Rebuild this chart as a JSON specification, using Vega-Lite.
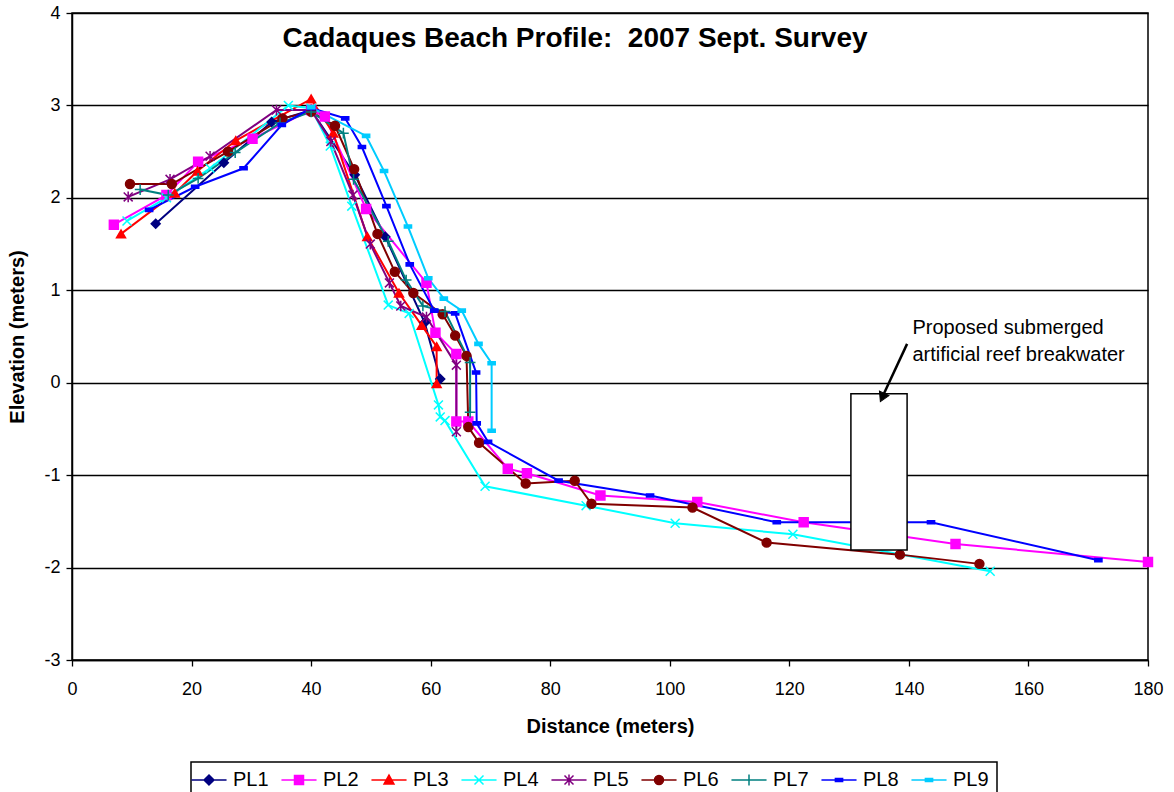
{
  "$schema": "https://vega.github.io/schema/vega-lite/v6.json",
  "width": 1076,
  "height": 647,
  "autosize": {"type": "none"},
  "padding": {"left": 72, "top": 13, "right": 26, "bottom": 132},
  "background": "white",
  "title": {
    "text": "Cadaques Beach Profile: \u00a02007 Sept. Survey",
    "font": "Liberation Sans",
    "fontSize": 28,
    "fontWeight": "bold",
    "color": "#000000",
    "anchor": "middle",
    "baseline": "alphabetic",
    "offset": -71,
    "dx": -35
  },
  "config": {
    "font": "Liberation Sans",
    "view": {"stroke": "#000000", "strokeWidth": 1.5},
    "axis": {
      "labelFont": "Liberation Sans",
      "titleFont": "Liberation Sans",
      "labelColor": "#000000",
      "titleColor": "#000000",
      "tickColor": "#000000",
      "domainColor": "#000000",
      "gridColor": "#000000",
      "gridWidth": 1.3,
      "gridOpacity": 1,
      "domainWidth": 1.5,
      "tickWidth": 1.3,
      "tickSize": 6,
      "labelFontSize": 18,
      "titleFontSize": 20,
      "titleFontWeight": "bold"
    },
    "legend": {
      "orient": "none",
      "legendX": 119,
      "legendY": 749,
      "direction": "horizontal",
      "strokeColor": "#000000",
      "strokeWidth": 1.5,
      "fillColor": "#ffffff",
      "padding": 8,
      "labelFont": "Liberation Sans",
      "labelFontSize": 20,
      "labelColor": "#000000",
      "symbolSize": 81,
      "symbolStrokeWidth": 1.5,
      "symbolOpacity": 1,
      "labelOffset": 14,
      "columnPadding": 9,
      "title": null
    }
  },
  "datasets": {
    "profiles": [
      {"s": "PL1", "o": 1, "d": 14.0, "e": 1.72},
      {"s": "PL1", "o": 2, "d": 25.4, "e": 2.38},
      {"s": "PL1", "o": 3, "d": 33.4, "e": 2.82},
      {"s": "PL1", "o": 4, "d": 40.0, "e": 2.95},
      {"s": "PL1", "o": 5, "d": 47.3, "e": 2.25},
      {"s": "PL1", "o": 6, "d": 52.4, "e": 1.58},
      {"s": "PL1", "o": 7, "d": 59.0, "e": 0.65},
      {"s": "PL1", "o": 8, "d": 61.6, "e": 0.04},

      {"s": "PL2", "o": 1, "d": 7.0, "e": 1.71},
      {"s": "PL2", "o": 2, "d": 15.8, "e": 2.03},
      {"s": "PL2", "o": 3, "d": 21.1, "e": 2.39},
      {"s": "PL2", "o": 4, "d": 30.2, "e": 2.64},
      {"s": "PL2", "o": 5, "d": 40.0, "e": 2.95},
      {"s": "PL2", "o": 6, "d": 42.3, "e": 2.88},
      {"s": "PL2", "o": 7, "d": 49.2, "e": 1.88},
      {"s": "PL2", "o": 8, "d": 59.3, "e": 1.08},
      {"s": "PL2", "o": 9, "d": 60.8, "e": 0.54},
      {"s": "PL2", "o": 10, "d": 64.3, "e": 0.31},
      {"s": "PL2", "o": 11, "d": 64.3, "e": -0.42},
      {"s": "PL2", "o": 12, "d": 66.3, "e": -0.42},
      {"s": "PL2", "o": 13, "d": 72.9, "e": -0.93},
      {"s": "PL2", "o": 14, "d": 76.1, "e": -0.98},
      {"s": "PL2", "o": 15, "d": 88.4, "e": -1.22},
      {"s": "PL2", "o": 16, "d": 104.6, "e": -1.29},
      {"s": "PL2", "o": 17, "d": 122.4, "e": -1.51},
      {"s": "PL2", "o": 18, "d": 147.8, "e": -1.745},
      {"s": "PL2", "o": 19, "d": 180.0, "e": -1.94},

      {"s": "PL3", "o": 1, "d": 8.2, "e": 1.61},
      {"s": "PL3", "o": 2, "d": 17.2, "e": 2.05},
      {"s": "PL3", "o": 3, "d": 21.0, "e": 2.29},
      {"s": "PL3", "o": 4, "d": 27.4, "e": 2.62},
      {"s": "PL3", "o": 5, "d": 40.0, "e": 3.07},
      {"s": "PL3", "o": 6, "d": 43.7, "e": 2.70},
      {"s": "PL3", "o": 7, "d": 49.4, "e": 1.58},
      {"s": "PL3", "o": 8, "d": 54.7, "e": 0.97},
      {"s": "PL3", "o": 9, "d": 58.5, "e": 0.62},
      {"s": "PL3", "o": 10, "d": 61.0, "e": 0.39},
      {"s": "PL3", "o": 11, "d": 61.0, "e": -0.01},

      {"s": "PL4", "o": 1, "d": 9.2, "e": 1.75},
      {"s": "PL4", "o": 2, "d": 15.8, "e": 2.0},
      {"s": "PL4", "o": 3, "d": 23.1, "e": 2.32},
      {"s": "PL4", "o": 4, "d": 36.2, "e": 3.0},
      {"s": "PL4", "o": 5, "d": 40.0, "e": 2.97},
      {"s": "PL4", "o": 6, "d": 43.2, "e": 2.56},
      {"s": "PL4", "o": 7, "d": 46.8, "e": 1.91},
      {"s": "PL4", "o": 8, "d": 52.9, "e": 0.84},
      {"s": "PL4", "o": 9, "d": 56.4, "e": 0.75},
      {"s": "PL4", "o": 10, "d": 61.3, "e": -0.24},
      {"s": "PL4", "o": 11, "d": 61.6, "e": -0.37},
      {"s": "PL4", "o": 12, "d": 62.4, "e": -0.41},
      {"s": "PL4", "o": 13, "d": 69.1, "e": -1.12},
      {"s": "PL4", "o": 14, "d": 86.0, "e": -1.33},
      {"s": "PL4", "o": 15, "d": 100.9, "e": -1.52},
      {"s": "PL4", "o": 16, "d": 120.6, "e": -1.64},
      {"s": "PL4", "o": 17, "d": 153.6, "e": -2.04},

      {"s": "PL5", "o": 1, "d": 9.4, "e": 2.01},
      {"s": "PL5", "o": 2, "d": 16.4, "e": 2.20},
      {"s": "PL5", "o": 3, "d": 23.1, "e": 2.45},
      {"s": "PL5", "o": 4, "d": 34.2, "e": 2.95},
      {"s": "PL5", "o": 5, "d": 40.0, "e": 2.95},
      {"s": "PL5", "o": 6, "d": 43.3, "e": 2.61},
      {"s": "PL5", "o": 7, "d": 47.0, "e": 2.03},
      {"s": "PL5", "o": 8, "d": 49.9, "e": 1.50},
      {"s": "PL5", "o": 9, "d": 53.1, "e": 1.08},
      {"s": "PL5", "o": 10, "d": 55.0, "e": 0.83},
      {"s": "PL5", "o": 11, "d": 59.3, "e": 0.71},
      {"s": "PL5", "o": 12, "d": 64.3, "e": 0.19},
      {"s": "PL5", "o": 13, "d": 64.3, "e": -0.53},

      {"s": "PL6", "o": 1, "d": 9.7, "e": 2.15},
      {"s": "PL6", "o": 2, "d": 16.7, "e": 2.15},
      {"s": "PL6", "o": 3, "d": 26.1, "e": 2.50},
      {"s": "PL6", "o": 4, "d": 35.2, "e": 2.86},
      {"s": "PL6", "o": 5, "d": 40.0, "e": 2.93},
      {"s": "PL6", "o": 6, "d": 44.0, "e": 2.78},
      {"s": "PL6", "o": 7, "d": 47.2, "e": 2.31},
      {"s": "PL6", "o": 8, "d": 51.1, "e": 1.61},
      {"s": "PL6", "o": 9, "d": 54.0, "e": 1.20},
      {"s": "PL6", "o": 10, "d": 57.1, "e": 0.97},
      {"s": "PL6", "o": 11, "d": 62.0, "e": 0.74},
      {"s": "PL6", "o": 12, "d": 64.1, "e": 0.51},
      {"s": "PL6", "o": 13, "d": 66.0, "e": 0.29},
      {"s": "PL6", "o": 14, "d": 66.3, "e": -0.48},
      {"s": "PL6", "o": 15, "d": 68.1, "e": -0.65},
      {"s": "PL6", "o": 16, "d": 75.9, "e": -1.09},
      {"s": "PL6", "o": 17, "d": 84.1, "e": -1.06},
      {"s": "PL6", "o": 18, "d": 86.9, "e": -1.31},
      {"s": "PL6", "o": 19, "d": 103.8, "e": -1.35},
      {"s": "PL6", "o": 20, "d": 116.2, "e": -1.73},
      {"s": "PL6", "o": 21, "d": 138.5, "e": -1.86},
      {"s": "PL6", "o": 22, "d": 151.8, "e": -1.96},

      {"s": "PL7", "o": 1, "d": 11.4, "e": 2.09},
      {"s": "PL7", "o": 2, "d": 16.1, "e": 2.03},
      {"s": "PL7", "o": 3, "d": 21.1, "e": 2.21},
      {"s": "PL7", "o": 4, "d": 27.3, "e": 2.49},
      {"s": "PL7", "o": 5, "d": 34.8, "e": 2.81},
      {"s": "PL7", "o": 6, "d": 40.0, "e": 2.93},
      {"s": "PL7", "o": 7, "d": 45.4, "e": 2.70},
      {"s": "PL7", "o": 8, "d": 47.1, "e": 2.20},
      {"s": "PL7", "o": 9, "d": 52.9, "e": 1.53},
      {"s": "PL7", "o": 10, "d": 55.9, "e": 1.11},
      {"s": "PL7", "o": 11, "d": 58.7, "e": 0.83},
      {"s": "PL7", "o": 12, "d": 62.4, "e": 0.77},
      {"s": "PL7", "o": 13, "d": 66.6, "e": 0.22},
      {"s": "PL7", "o": 14, "d": 66.6, "e": -0.32},

      {"s": "PL8", "o": 1, "d": 12.9, "e": 1.87},
      {"s": "PL8", "o": 2, "d": 20.6, "e": 2.12},
      {"s": "PL8", "o": 3, "d": 28.7, "e": 2.32},
      {"s": "PL8", "o": 4, "d": 35.1, "e": 2.79},
      {"s": "PL8", "o": 5, "d": 40.0, "e": 2.97},
      {"s": "PL8", "o": 6, "d": 45.7, "e": 2.86},
      {"s": "PL8", "o": 7, "d": 48.5, "e": 2.55},
      {"s": "PL8", "o": 8, "d": 52.6, "e": 1.91},
      {"s": "PL8", "o": 9, "d": 56.5, "e": 1.28},
      {"s": "PL8", "o": 10, "d": 60.6, "e": 0.78},
      {"s": "PL8", "o": 11, "d": 64.1, "e": 0.75},
      {"s": "PL8", "o": 12, "d": 67.6, "e": 0.11},
      {"s": "PL8", "o": 13, "d": 67.7, "e": -0.44},
      {"s": "PL8", "o": 14, "d": 69.6, "e": -0.64},
      {"s": "PL8", "o": 15, "d": 81.4, "e": -1.06},
      {"s": "PL8", "o": 16, "d": 96.7, "e": -1.22},
      {"s": "PL8", "o": 17, "d": 117.9, "e": -1.51},
      {"s": "PL8", "o": 18, "d": 143.7, "e": -1.51},
      {"s": "PL8", "o": 19, "d": 171.7, "e": -1.92},

      {"s": "PL9", "o": 1, "d": 40.0, "e": 2.98},
      {"s": "PL9", "o": 2, "d": 49.2, "e": 2.67},
      {"s": "PL9", "o": 3, "d": 52.2, "e": 2.29},
      {"s": "PL9", "o": 4, "d": 56.2, "e": 1.69},
      {"s": "PL9", "o": 5, "d": 59.6, "e": 1.13},
      {"s": "PL9", "o": 6, "d": 62.2, "e": 0.91},
      {"s": "PL9", "o": 7, "d": 65.2, "e": 0.78},
      {"s": "PL9", "o": 8, "d": 68.0, "e": 0.42},
      {"s": "PL9", "o": 9, "d": 70.2, "e": 0.21},
      {"s": "PL9", "o": 10, "d": 70.2, "e": -0.52}
    ]
  },
  "encoding": {
    "x": {
      "field": "d",
      "type": "quantitative",
      "title": "Distance (meters)",
      "scale": {"domain": [0, 180], "nice": false, "zero": false},
      "axis": {
        "values": [0, 20, 40, 60, 80, 100, 120, 140, 160, 180],
        "grid": false,
        "labelPadding": 14,
        "titlePadding": 18,
        "labelFlush": false
      }
    },
    "y": {
      "field": "e",
      "type": "quantitative",
      "title": "Elevation (meters)",
      "scale": {"domain": [-3, 4], "nice": false, "zero": false},
      "axis": {
        "values": [-3, -2, -1, 0, 1, 2, 3, 4],
        "labelExpr": "'' + datum.value",
        "grid": true,
        "labelPadding": 6,
        "titlePadding": 16,
        "labelFlush": false
      }
    }
  },
  "layer": [
    {
      "data": {"name": "profiles"},
      "mark": {"type": "line", "strokeWidth": 2},
      "encoding": {
        "color": {
          "field": "s",
          "type": "nominal",
          "scale": {
            "domain": ["PL1", "PL2", "PL3", "PL4", "PL5", "PL6", "PL7", "PL8", "PL9"],
            "range": ["#000080", "#FF00FF", "#FF0000", "#00FFFF", "#800080", "#800000", "#008080", "#0000FF", "#00CCFF"]
          },
          "legend": null
        },
        "order": {"field": "o", "type": "quantitative"}
      }
    },
    {
      "data": {"name": "profiles"},
      "mark": {"type": "point", "filled": true, "size": 80, "strokeWidth": 1.5, "opacity": 1},
      "encoding": {
        "shape": {
          "field": "s",
          "type": "nominal",
          "scale": {
            "domain": ["PL1", "PL2", "PL3", "PL4", "PL5", "PL6", "PL7", "PL8", "PL9"],
            "range": [
              "diamond",
              "square",
              "triangle-up",
              "M-1,-1L1,1M-1,1L1,-1",
              "M-1,-1L1,1M-1,1L1,-1M0,-1.2L0,1.2",
              "circle",
              "M-1.2,0L1.2,0M0,-1.2L0,1.2",
              "M-0.8,-0.35L0.8,-0.35L0.8,0.35L-0.8,0.35Z",
              "M-0.8,-0.35L0.8,-0.35L0.8,0.35L-0.8,0.35Z"
            ]
          },
          "legend": null
        },
        "fill": {
          "field": "s",
          "type": "nominal",
          "scale": {
            "domain": ["PL1", "PL2", "PL3", "PL4", "PL5", "PL6", "PL7", "PL8", "PL9"],
            "range": ["#000080", "#FF00FF", "#FF0000", "#00FFFF", "#800080", "#800000", "#008080", "#0000FF", "#00CCFF"]
          },
          "legend": null
        },
        "stroke": {
          "field": "s",
          "type": "nominal",
          "scale": {
            "domain": ["PL1", "PL2", "PL3", "PL4", "PL5", "PL6", "PL7", "PL8", "PL9"],
            "range": ["#000080", "#FF00FF", "#FF0000", "#00FFFF", "#800080", "#800000", "#008080", "#0000FF", "#00CCFF"]
          },
          "legend": null
        }
      }
    },
    {
      "data": {"values": [{"d": 130.3, "d2": 139.7, "e": -0.12, "e2": -1.81}]},
      "mark": {"type": "rect", "fill": "#ffffff", "stroke": "#000000", "strokeWidth": 1.5},
      "encoding": {
        "x2": {"field": "d2"},
        "y2": {"field": "e2"}
      }
    },
    {
      "data": {"values": [{"d": 139.7, "e": 0.42, "d2": 135.6, "e2": -0.15}]},
      "mark": {"type": "rule", "stroke": "#000000", "strokeWidth": 2.5},
      "encoding": {
        "x2": {"field": "d2"},
        "y2": {"field": "e2"}
      }
    },
    {
      "data": {"values": [{"d": 135.55, "e": -0.16}]},
      "mark": {"type": "point", "shape": "triangle-up", "filled": true, "fill": "#000000", "stroke": "#000000", "strokeWidth": 1, "size": 110, "angle": 205, "opacity": 1},
      "encoding": {}
    },
    {
      "data": {"values": [{"d": 140.6, "e": 0.53, "t": "Proposed submerged\nartificial reef breakwater"}]},
      "mark": {"type": "text", "align": "left", "baseline": "alphabetic", "font": "Liberation Sans", "fontSize": 20, "lineBreak": "\n", "lineHeight": 27, "color": "#000000"},
      "encoding": {
        "text": {"field": "t"}
      }
    },
    {
      "data": {"name": "profiles"},
      "transform": [{"filter": "datum.e > 100"}],
      "mark": {"type": "point", "filled": true, "size": 81, "strokeWidth": 1.5, "opacity": 1},
      "encoding": {
        "shape": {
          "field": "s",
          "type": "nominal",
          "scale": {
            "domain": ["PL1", "PL2", "PL3", "PL4", "PL5", "PL6", "PL7", "PL8", "PL9"],
            "range": [
              "M-3.9,0L3.9,0M0,-1.1L1.1,0L0,1.1L-1.1,0Z",
              "M-3.9,0L3.9,0M-1,-1L1,-1L1,1L-1,1Z",
              "M-3.9,0L3.9,0M0,-1.1L1.1,0.9L-1.1,0.9Z",
              "M-3.9,0L3.9,0M-1,-1L1,1M-1,1L1,-1",
              "M-3.9,0L3.9,0M-1,-1L1,1M-1,1L1,-1M0,-1.2L0,1.2",
              "M-3.9,0L3.9,0M-1,0A1,1,0,1,0,1,0A1,1,0,1,0,-1,0Z",
              "M-3.9,0L3.9,0M0,-1.2L0,1.2",
              "M-3.9,0L3.9,0M-0.8,-0.35L0.8,-0.35L0.8,0.35L-0.8,0.35Z",
              "M-3.9,0L3.9,0M-0.8,-0.35L0.8,-0.35L0.8,0.35L-0.8,0.35Z"
            ]
          },
          "legend": {}
        },
        "fill": {
          "field": "s",
          "type": "nominal",
          "scale": {
            "domain": ["PL1", "PL2", "PL3", "PL4", "PL5", "PL6", "PL7", "PL8", "PL9"],
            "range": ["#000080", "#FF00FF", "#FF0000", "#00FFFF", "#800080", "#800000", "#008080", "#0000FF", "#00CCFF"]
          },
          "legend": {}
        },
        "stroke": {
          "field": "s",
          "type": "nominal",
          "scale": {
            "domain": ["PL1", "PL2", "PL3", "PL4", "PL5", "PL6", "PL7", "PL8", "PL9"],
            "range": ["#000080", "#FF00FF", "#FF0000", "#00FFFF", "#800080", "#800000", "#008080", "#0000FF", "#00CCFF"]
          },
          "legend": {}
        }
      }
    }
  ],
  "resolve": {
    "scale": {"shape": "independent", "fill": "independent", "stroke": "independent"},
    "legend": {"shape": "independent", "fill": "independent", "stroke": "independent"}
  }
}
